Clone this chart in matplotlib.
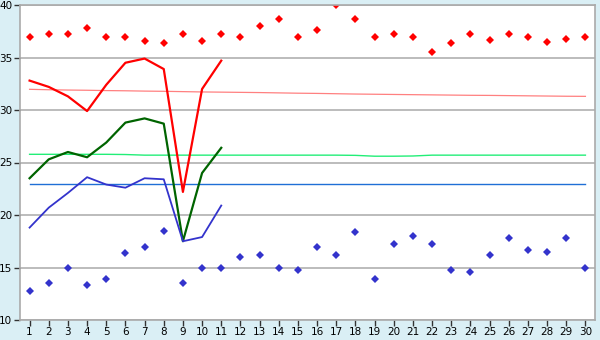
import matplotlib
matplotlib.use("Agg")
import matplotlib.pyplot as plt

days = list(range(1, 31))

max_daily = [37.0, 37.2, 37.2, 37.8, 37.0, 37.0, 36.6, 36.4, 37.2, 36.6,
             37.2, 37.0, 38.0, 38.7, 37.0, 37.6, 40.0, 38.7, 37.0, 37.2,
             37.0, 35.5, 36.4, 37.2, 36.7, 37.2, 37.0, 36.5, 36.8, 37.0]
min_daily = [12.8, 13.5, 15.0, 13.3, 13.9, 16.4, 17.0, 18.5, 13.5, 15.0,
             15.0, 16.0, 16.2, 15.0, 14.8, 17.0, 16.2, 18.4, 13.9, 17.2,
             18.0, 17.2, 14.8, 14.6, 16.2, 17.8, 16.7, 16.5, 17.8, 15.0]

line_days = list(range(1, 12))
max_line = [32.8, 32.2, 31.3, 29.9, 32.4, 34.5, 34.9, 33.9, 22.2, 32.0, 34.7]
mean_line = [23.5, 25.3, 26.0, 25.5, 26.9, 28.8, 29.2, 28.7, 17.5, 24.0, 26.4]
min_line = [18.8, 20.7, 22.1, 23.6, 22.9, 22.6, 23.5, 23.4, 17.5, 17.9, 20.9]

normal_max = [31.97, 31.93, 31.9, 31.88, 31.85, 31.83, 31.8, 31.78, 31.75, 31.72,
              31.7, 31.68, 31.66, 31.63, 31.6, 31.58, 31.55, 31.52, 31.5, 31.48,
              31.46, 31.44, 31.42, 31.4, 31.39, 31.37, 31.35, 31.33, 31.31, 31.3]
normal_mean = [25.78, 25.78, 25.78, 25.78, 25.78, 25.76, 25.7, 25.7, 25.7, 25.7,
               25.7, 25.7, 25.7, 25.7, 25.7, 25.7, 25.7, 25.68, 25.6, 25.6,
               25.62, 25.7, 25.7, 25.7, 25.7, 25.7, 25.7, 25.7, 25.7, 25.7]
normal_min = [23.0] * 30

y_ticks = [10, 15, 20, 25, 30, 35, 40]

fig = plt.figure(figsize=(6, 3.4), dpi=100)
bg = '#daeff5'
fig.patch.set_facecolor(bg)
ax = fig.add_axes([20/600, 20/340, 575/600, 315/340])
ax.set_facecolor('white')

ax.set_xlim(0.5, 30.5)
ax.set_ylim(10, 40)
ax.set_yticks(y_ticks)
ax.set_xticks(days)
ax.grid(axis='y', color='#b0b0b0', linewidth=1.2)
ax.set_axisbelow(True)

ax.plot(days, normal_max, color='#ff8080', linewidth=0.9)
ax.plot(days, normal_mean, color='#22ee77', linewidth=1.0)
ax.plot(days, normal_min, color='#1f6fd6', linewidth=1.0)

ax.plot(line_days, max_line, color='#ff0000', linewidth=1.6)
ax.plot(line_days, mean_line, color='#006400', linewidth=1.6)
ax.plot(line_days, min_line, color='#3333cc', linewidth=1.3)

ax.plot(days, max_daily, linestyle='none', marker='D', markersize=3.8,
        color='#ff0000', markeredgewidth=0)
ax.plot(days, min_daily, linestyle='none', marker='D', markersize=3.8,
        color='#3333cc', markeredgewidth=0)

for s in ax.spines.values():
    s.set_color('#aaaaaa')
    s.set_linewidth(1.2)

ax.tick_params(axis='both', labelcolor='#000000', color='#333333',
               labelsize=7.5, width=1, direction='out')
ax.tick_params(axis='y', length=4, pad=1.5)
ax.tick_params(axis='x', length=4, pad=1)

fig.savefig('out.png', dpi=100, facecolor=bg)
